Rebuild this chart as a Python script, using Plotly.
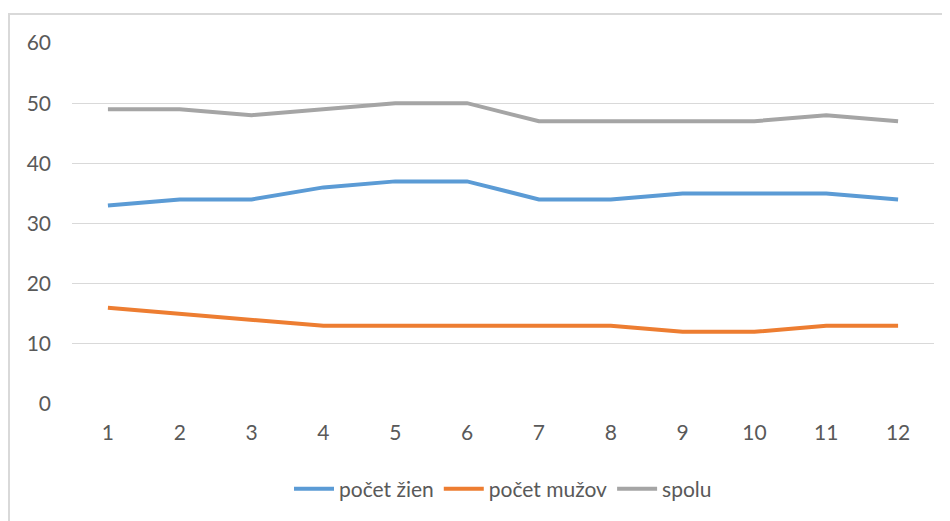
import plotly.graph_objects as go

months = [1, 2, 3, 4, 5, 6, 7, 8, 9, 10, 11, 12]
zeny = [33, 34, 34, 36, 37, 37, 34, 34, 35, 35, 35, 34]
muzi = [16, 15, 14, 13, 13, 13, 13, 13, 12, 12, 13, 13]
spolu = [49, 49, 48, 49, 50, 50, 47, 47, 47, 47, 48, 47]

font_fam = "Lato, 'Open Sans', sans-serif"
txt_col = "#595959"

fig = go.Figure()
for name, vals, col in [("počet žien", zeny, "#5B9BD5"),
                        ("počet mužov", muzi, "#ED7D31"),
                        ("spolu", spolu, "#A5A5A5")]:
    fig.add_trace(go.Scatter(x=months, y=vals, name=name, mode="lines",
                             line=dict(color=col, width=4)))

# page has an 8px body margin, so figure is offset by 8px
OFF = 8
W, H = 950 - OFF, 521 - OFF
L, R, T, B = 72 - OFF, 16, 43 - OFF, 117
pw, ph = W - L - R, H - T - B

fig.update_layout(
    width=W, height=H,
    margin=dict(l=L, r=R, t=T, b=B),
    paper_bgcolor="white", plot_bgcolor="white",
    font=dict(family=font_fam, size=21, color=txt_col),
    showlegend=True,
    legend=dict(orientation="h", x=0.5, xanchor="center",
                y=(T + ph - (489 - OFF)) / ph, yanchor="middle",
                font=dict(size=21, color=txt_col), itemwidth=40),
    xaxis=dict(range=[0.5, 12.5], tickmode="array", tickvals=months,
               ticktext=[str(m) for m in months], showgrid=False,
               zeroline=False, showline=False, ticks="",
               ticklabelstandoff=14, fixedrange=True),
    yaxis=dict(range=[0, 60], tickvals=[0, 10, 20, 30, 40, 50, 60],
               showgrid=True, gridcolor="#D9D9D9", gridwidth=1,
               zeroline=False, showline=False, ticks="",
               ticklabelstandoff=20, fixedrange=True),
    shapes=[dict(type="rect", xref="paper", yref="paper",
                 x0=(1 - L) / pw, x1=(W + 10 - L) / pw,
                 y0=(T + ph - (H + 10)) / ph, y1=(T + ph - (14 - OFF)) / ph,
                 line=dict(color="#D9D9D9", width=2), layer="below")],
)

fig.write_html("out.html")
